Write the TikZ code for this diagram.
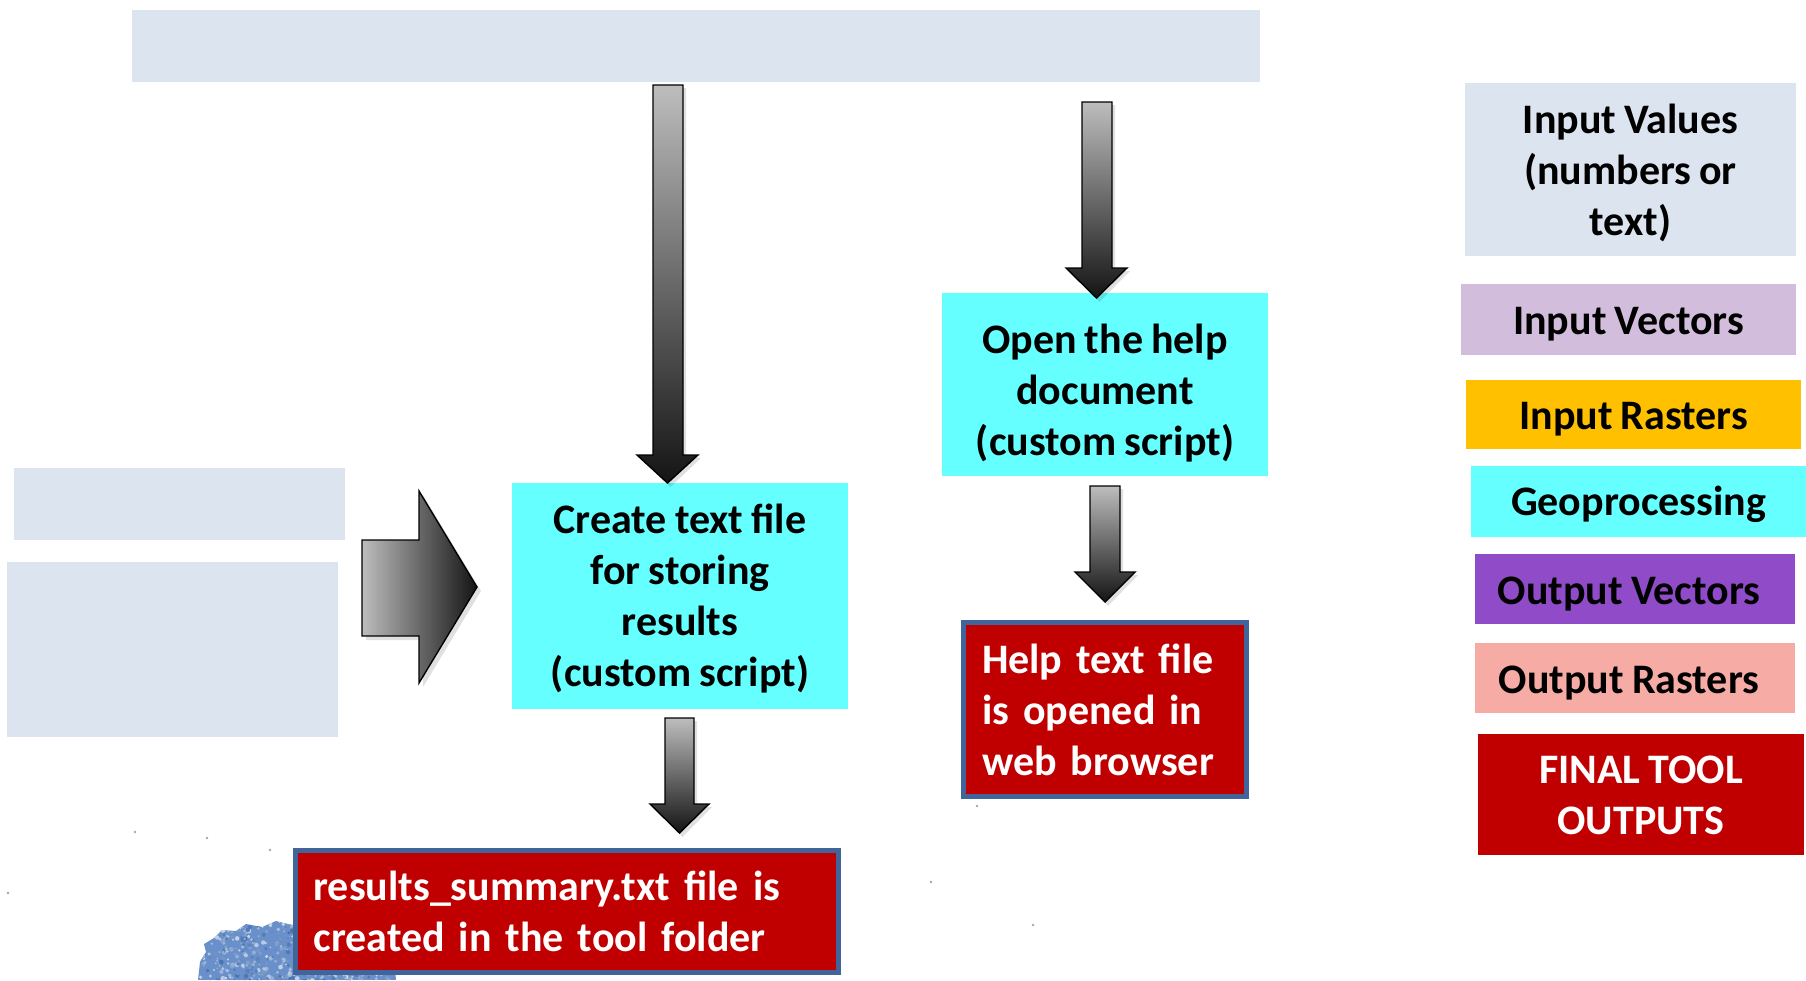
\documentclass[tikz,border=0pt]{standalone}
\usepackage{fontspec}
\setmainfont{Carlito}[WordSpace=0.85]
\definecolor{paleblue}{HTML}{DCE4F0}
\definecolor{lavender}{HTML}{D2BEDC}
\definecolor{amber}{HTML}{FFC000}
\definecolor{aqua}{HTML}{66FFFF}
\definecolor{violet}{HTML}{8F4BC8}
\definecolor{salmon}{HTML}{F7ABA5}
\definecolor{deepred}{HTML}{C00000}
\definecolor{frameblue}{HTML}{41649B}
\definecolor{arrowlight}{HTML}{BDBDBD}
\definecolor{arrowdark}{HTML}{141414}
\definecolor{blobblue}{HTML}{6990CA}
\definecolor{blobdark}{HTML}{3A68AA}

\tikzset{
  txt/.style={font=\bfseries\fontsize{42}{51}\selectfont, inner sep=0pt, outer sep=0pt, align=center},
  panel/.style={fill=paleblue, inner sep=0pt},
  procbox/.style={txt, fill=aqua},
  outbox/.style={txt, fill=deepred, draw=frameblue, line width=5pt, text=white, align=left, inner xsep=18pt},
  arrowline/.style={draw=black, line width=1.4pt, line join=miter},
  legtxt/.style={txt, yshift=-5pt},
}

% vertical block arrow: shaft left/right, top, head start, head left/right, tip
\newcommand\blockdown[7]{%
  \fill[black, opacity=.12] (#1+3,#3+3) -- (#2+3,#3+3) -- (#2+3,#4+3) -- (#6+3,#4+3)
     -- ({(#5+#6)/2+3},#7+4) -- (#5+3,#4+3) -- (#1+3,#4+3) -- cycle;
  \shade[arrowline, top color=arrowlight, bottom color=arrowdark]
     (#1,#3) -- (#2,#3) -- (#2,#4) -- (#6,#4) -- ({(#5+#6)/2},#7) -- (#5,#4) -- (#1,#4) -- cycle;
}

\begin{document}
\begin{tikzpicture}[x=1pt, y=-1pt]
\useasboundingbox (0,0) rectangle (1806,980);

% textured patch at the bottom left
\begin{scope}
  \clip (198,980) -- (200,962) -- (206,952) -- (204,944) -- (214,938) -- (222,930)
        -- (236,931) -- (246,924) -- (262,927) -- (276,921) -- (292,925) -- (310,922)
        -- (326,927) -- (344,924) -- (360,930) -- (378,928) -- (392,936) -- (396,980) -- cycle;
  \fill[blobblue] (190,915) rectangle (400,980);
  \pgfmathsetseed{17}
  \foreach \i in {1,...,750} {
    \pgfmathsetmacro{\px}{196+202*rnd}
    \pgfmathsetmacro{\py}{918+64*rnd}
    \pgfmathsetmacro{\pr}{0.7+1.8*rnd}
    \pgfmathsetmacro{\pc}{85*rnd}
    \fill[white!\pc!blobdark, opacity=.8] (\px,\py) circle[radius=\pr];
  }
\end{scope}

% a few stray specks
\foreach \sx/\sy in {931/882, 1033/925, 977/806, 135/832, 8/893, 270/850, 207/838}
  \fill[black!35] (\sx,\sy) circle[radius=1.3];

% empty panels
\node[panel, minimum width=1128, minimum height=72] (topbar) at (696,46) {};
\node[panel, minimum width=331, minimum height=72] (leftA) at (179.5,504) {};
\node[panel, minimum width=331, minimum height=175] (leftB) at (172.5,649.5) {};

% process boxes
\node[procbox, minimum width=336, minimum height=226] (create) at (680,596) {};
\node[txt, yshift=-3pt] at (create) {Create text file\\for storing\\results\\ (custom script)};
\node[procbox, minimum width=326, minimum height=183] (openhelp) at (1105,384.5) {};
\node[txt, yshift=-9pt] at (openhelp) {Open the help\\document\\(custom script)};

% output boxes
\node[outbox, minimum width=283, minimum height=174, text width=246] (helpout) at (1105,709.5)
  {Help text file\\is opened in\\web browser};
\node[outbox, minimum width=543, minimum height=122, text width=507] (resout) at (567,911.5)
  {results\_summary.txt file is\\created in the tool folder};

% block arrows
\blockdown{653}{683}{85}{455}{637}{698}{483}
\blockdown{1082}{1112}{102}{268}{1066}{1127}{298}
\blockdown{1090}{1120}{486}{572}{1075}{1135}{602}
\blockdown{665}{694}{718}{804}{650}{709}{833}

% horizontal block arrow into the create box
\fill[black, opacity=.12] (366,544) -- (423,544) -- (423,495) -- (481,591) -- (423,687) -- (423,640) -- (366,640) -- cycle;
\shade[arrowline, left color=arrowlight, right color=arrowdark]
  (362,540) -- (419,540) -- (419,491) -- (477,587) -- (419,683) -- (419,636) -- (362,636) -- cycle;

% legend
\node[txt, fill=paleblue, minimum width=331, minimum height=173] (legvalues) at (1630.5,169.5) {};
\node[txt, yshift=-3pt] at (legvalues) {Input Values\\(numbers or\\text)};
\node[txt, fill=lavender, minimum width=335, minimum height=71] (legvectors) at (1628.5,319.5) {};
\node[legtxt] at (legvectors) {Input Vectors};
\node[txt, fill=amber, minimum width=335, minimum height=69] (legrasters) at (1633.5,414.5) {};
\node[legtxt] at (legrasters) {Input Rasters};
\node[txt, fill=aqua, minimum width=335, minimum height=71] (leggeo) at (1638.5,501.5) {};
\node[legtxt, yshift=2pt] at (leggeo) {Geoprocessing};
\node[txt, fill=violet, minimum width=320, minimum height=70] (legoutvec) at (1635,589) {};
\node[legtxt, xshift=-6pt] at (legoutvec) {Output Vectors};
\node[txt, fill=salmon, minimum width=320, minimum height=70] (legoutras) at (1635,678) {};
\node[legtxt, xshift=-6pt] at (legoutras) {Output Rasters};
\node[txt, fill=deepred, text=white, minimum width=326, minimum height=121] (legfinal) at (1641,794.5) {};
\node[txt, text=white, yshift=-1pt] at (legfinal) {FINAL TOOL\\OUTPUTS};
\end{tikzpicture}
\end{document}
